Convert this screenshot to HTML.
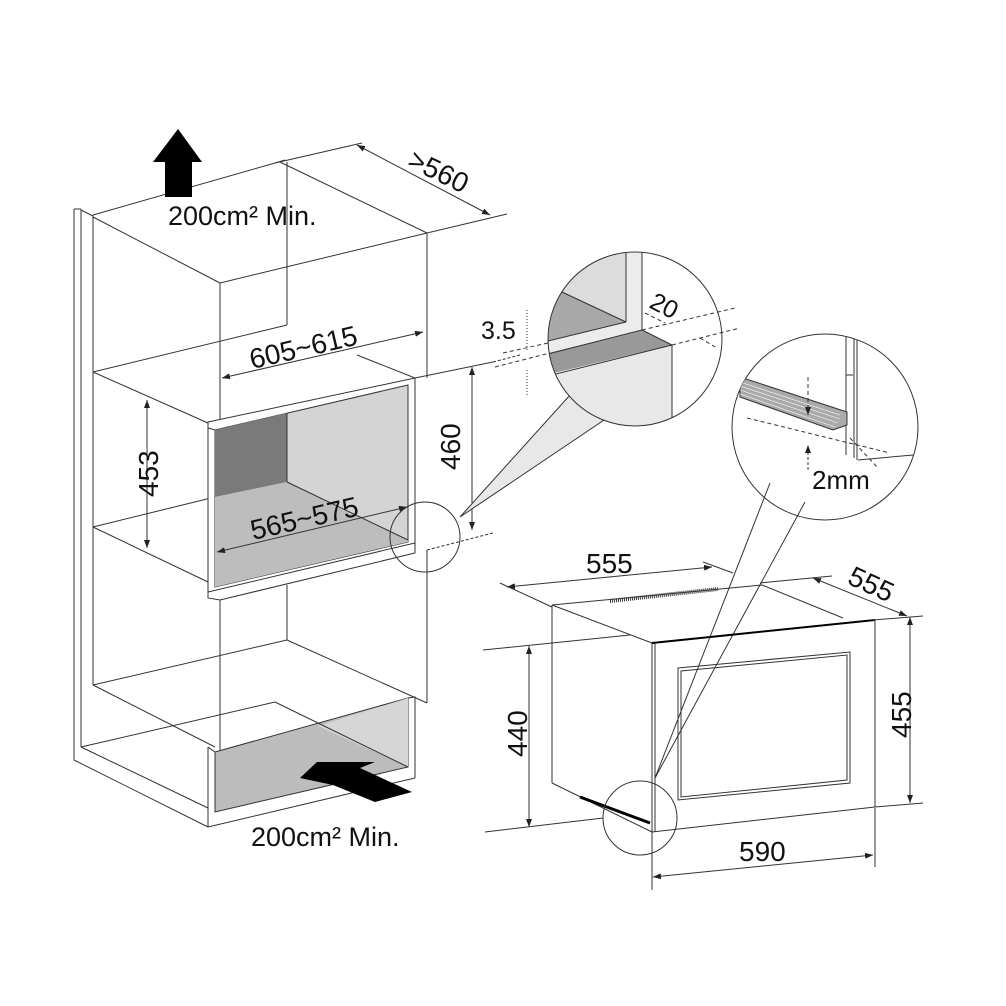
<!DOCTYPE html>
<html><head><meta charset="utf-8"><style>
html,body{margin:0;padding:0;background:#fff;}
svg{display:block}
text{font-family:"Liberation Sans",sans-serif;fill:#111}
</style></head><body>
<svg width="1006" height="1006" viewBox="0 0 1006 1006" xmlns="http://www.w3.org/2000/svg">
<defs>
<clipPath id="c1"><circle cx="635" cy="339" r="87"/></clipPath>
<clipPath id="c2"><circle cx="825" cy="427" r="93"/></clipPath>
<marker id="ar" markerWidth="8" markerHeight="6" refX="8" refY="3" orient="auto" markerUnits="userSpaceOnUse"><path d="M0,0 L8,3 L0,6 z" fill="#222"/></marker>
<marker id="al" markerWidth="8" markerHeight="6" refX="0" refY="3" orient="auto" markerUnits="userSpaceOnUse"><path d="M8,0 L0,3 L8,6 z" fill="#222"/></marker>
</defs>
<g stroke="#333" stroke-width="1" fill="none">
<line x1="74" y1="209" x2="74" y2="760"/>
<line x1="81" y1="209" x2="81" y2="747"/>
<line x1="74" y1="209" x2="81" y2="209"/>
<line x1="81" y1="210" x2="93" y2="216"/>
<line x1="93" y1="215" x2="93" y2="685"/>
<line x1="93" y1="215" x2="275" y2="163"/>
<line x1="275" y1="163" x2="285" y2="160"/>
<line x1="280" y1="162" x2="427" y2="233"/>
<line x1="93" y1="217" x2="220" y2="283"/>
<line x1="220" y1="283" x2="427" y2="233"/>
<line x1="220" y1="283" x2="220" y2="423"/>
<line x1="287" y1="162" x2="287" y2="325"/>
<line x1="427" y1="233" x2="427" y2="378"/>
<line x1="427" y1="550" x2="427" y2="703"/>
<line x1="275" y1="163" x2="362" y2="143"/>
<line x1="427" y1="233" x2="507" y2="214"/>
<line x1="93" y1="372" x2="287" y2="325"/>
<line x1="93" y1="372" x2="208" y2="423"/>
<line x1="357" y1="355" x2="415" y2="378"/>
<line x1="415" y1="378" x2="493" y2="362"/>
<line x1="93" y1="527" x2="215" y2="497"/>
<line x1="93" y1="527" x2="208" y2="582"/>
</g>
<polygon points="208,422 415,378 415,543 208,592" fill="#fff" stroke="#333"/>
<polygon points="215,430 408,385 408,542 215,587" fill="#d4d4d4" stroke="#333"/>
<polygon points="215,430 287,413 287,482 215,497" fill="#7a7a7a"/>
<polygon points="215,497 287,482 408,540 408,542 215,587" fill="#bdbdbd"/>
<line x1="287" y1="413" x2="287" y2="482" stroke="#333"/>
<line x1="287" y1="482" x2="408" y2="540" stroke="#333"/>
<polyline points="208,422 208,428 215,430" fill="none" stroke="#333"/>
<g stroke="#333" fill="none">
<polyline points="208,592 208,598 220,600 415,553 415,543"/>
<line x1="220" y1="600" x2="220" y2="751"/>
<line x1="287" y1="585" x2="287" y2="640"/>
<line x1="93" y1="685" x2="287" y2="640"/>
<line x1="287" y1="640" x2="427" y2="703"/>
<line x1="93" y1="685" x2="215" y2="747"/>
<line x1="74" y1="760" x2="208" y2="827"/>
<line x1="81" y1="747" x2="275" y2="702"/>
<line x1="81" y1="747" x2="208" y2="808"/>
</g>
<polygon points="215,752 408,698 408,767 215,812" fill="#bcbcbc" stroke="#333"/>
<polygon points="318,726 408,698 408,767" fill="#d6d6d6"/>
<line x1="275" y1="702" x2="408" y2="767" stroke="#333"/>
<g stroke="#333" fill="none">
<polyline points="208,747 215,752"/>
<line x1="208" y1="747" x2="208" y2="827"/>
<polyline points="408,698 415,697 415,778"/>
<line x1="208" y1="827" x2="415" y2="778"/>
</g>
<polygon points="300,778 317,762 375,762 360,768 412,792 375,802 333,785" fill="#000"/>
<polygon points="178,129 202,162 192,162 192,197 165,197 165,162 153,162" fill="#000"/>
<text x="168" y="225" font-size="27">200cm² Min.</text>
<text x="251" y="846" font-size="27">200cm² Min.</text>
<g stroke="#333" fill="none">
<line x1="357" y1="145" x2="490" y2="215" marker-start="url(#al)" marker-end="url(#ar)"/>
<line x1="222" y1="378" x2="423" y2="332" marker-start="url(#al)" marker-end="url(#ar)"/>
<line x1="217" y1="552" x2="407" y2="507" marker-start="url(#al)" marker-end="url(#ar)"/>
<line x1="147" y1="400" x2="147" y2="548" marker-start="url(#al)" marker-end="url(#ar)"/>
<line x1="472" y1="367" x2="472" y2="530" marker-start="url(#al)" marker-end="url(#ar)"/>
<line x1="427" y1="550" x2="493" y2="533" stroke-dasharray="3,2"/>
<line x1="493" y1="362" x2="520" y2="355" stroke-dasharray="3,2"/>
<circle cx="425" cy="537" r="35"/>
</g>
<text font-size="28" transform="translate(406,166) rotate(26)">&gt;560</text>
<text font-size="28" transform="translate(252,369) rotate(-13)">605~615</text>
<text font-size="28" transform="translate(253,540) rotate(-13)">565~575</text>
<text font-size="28" transform="translate(158,497) rotate(-90)">453</text>
<text font-size="28" transform="translate(460,470) rotate(-90)">460</text>
<polygon points="460,517 570,395 607,418" fill="#e8e8e8" stroke="#333"/>
<circle cx="635" cy="339" r="87" fill="#fff"/>
<g clip-path="url(#c1)">
<rect x="540" y="240" width="86" height="120" fill="#dcdcdc"/>
<polygon points="540,285 562,292 626,322 548,342 540,344" fill="#a8a8a8"/>
<polygon points="626,240 642,240 642,330 548,353 540,355 540,343 548,341 626,322" fill="#ececec"/>
<polygon points="540,355 548,353 642,330 672,345 672,440 540,440" fill="#e8e8e8"/>
<polygon points="540,357 548,353 642,330 672,345 558,372 540,376" fill="#999"/>
<g stroke="#333" fill="none">
<line x1="562" y1="292" x2="626" y2="322"/>
<line x1="626" y1="240" x2="626" y2="322"/>
<line x1="642" y1="240" x2="642" y2="330"/>
<line x1="626" y1="322" x2="540" y2="343"/>
<line x1="642" y1="330" x2="540" y2="356"/>
<line x1="672" y1="345" x2="540" y2="378"/>
<line x1="672" y1="345" x2="672" y2="440"/>
<line x1="642" y1="330" x2="672" y2="345"/>
</g>
</g>
<circle cx="635" cy="339" r="87" fill="none" stroke="#333"/>
<g stroke="#333" fill="none" stroke-dasharray="4,3">
<line x1="503" y1="353" x2="548" y2="343"/>
<line x1="495" y1="367" x2="550" y2="353"/>
<line x1="642" y1="330" x2="735" y2="308"/>
<line x1="672" y1="345" x2="740" y2="328"/>
<line x1="645" y1="313" x2="665" y2="323"/>
<line x1="700" y1="338" x2="717" y2="348"/>
</g>
<g stroke="#333" stroke-dasharray="1,2"><line x1="527" y1="310" x2="527" y2="350"/><line x1="527" y1="370" x2="527" y2="397"/></g>
<text x="481" y="339" font-size="25">3.5</text>
<text font-size="25" transform="translate(648,307) rotate(27)">20</text>
<circle cx="825" cy="427" r="93" fill="#fff" stroke="#333"/>
<g clip-path="url(#c2)" stroke="#333" fill="none">
<line x1="846" y1="330" x2="846" y2="455"/>
<line x1="854" y1="330" x2="854" y2="458"/>
<line x1="857" y1="330" x2="857" y2="460"/>
<line x1="846" y1="375" x2="853" y2="375"/>
<polygon points="740,377 847,412 847,425 833,430 740,397" fill="#aaa"/>
<g stroke="#fff" stroke-width="0.6"><line x1="740" y1="382" x2="840" y2="415"/><line x1="740" y1="386" x2="840" y2="419"/><line x1="740" y1="390" x2="838" y2="423"/><line x1="740" y1="394" x2="835" y2="427"/></g>
<line x1="747" y1="418" x2="890" y2="453" stroke-dasharray="4,3"/>
<line x1="850" y1="438" x2="878" y2="468" stroke-dasharray="4,3"/>
<line x1="858" y1="460" x2="913" y2="455"/>
<line x1="808" y1="377" x2="808" y2="415" stroke-dasharray="4,3" marker-end="url(#ar)"/>
<line x1="808" y1="470" x2="808" y2="445" stroke-dasharray="3,2" marker-end="url(#ar)"/>
</g>
<text x="812" y="489" font-size="26">2mm</text>
<line x1="770" y1="483" x2="655" y2="778" stroke="#333"/>
<line x1="805" y1="502" x2="655" y2="778" stroke="#333"/>
<g stroke="#333" fill="none">
<line x1="552" y1="605" x2="652" y2="643"/>
<line x1="552" y1="605" x2="762" y2="585"/>
<line x1="762" y1="585" x2="843" y2="618"/>
<line x1="552" y1="605" x2="552" y2="783"/>
<line x1="552" y1="783" x2="652" y2="832"/>
<line x1="652" y1="643" x2="652" y2="832"/>
<line x1="655" y1="643" x2="655" y2="832"/>
<line x1="652" y1="643" x2="875" y2="620" stroke="#000" stroke-width="2"/>
<line x1="875" y1="620" x2="875" y2="807"/>
<line x1="652" y1="832" x2="875" y2="807"/>
<polygon points="678,668 850,652 850,783 678,800"/>
<polygon points="681,671 847,655 847,780 681,797"/>
<line x1="580" y1="797" x2="650" y2="823" stroke="#000" stroke-width="3"/>
<line x1="610" y1="601" x2="718" y2="589" stroke-dasharray="1,1" stroke-width="4"/>
<line x1="500" y1="583" x2="552" y2="607"/>
<line x1="703" y1="562" x2="733" y2="573"/>
<line x1="507" y1="587" x2="712" y2="567" marker-start="url(#al)" marker-end="url(#ar)"/>
<line x1="760" y1="583" x2="832" y2="576"/>
<line x1="873" y1="620" x2="923" y2="616"/>
<line x1="813" y1="578" x2="907" y2="616" marker-start="url(#al)" marker-end="url(#ar)"/>
<line x1="875" y1="807" x2="923" y2="803"/>
<line x1="910" y1="617" x2="910" y2="803" marker-start="url(#al)" marker-end="url(#ar)"/>
<line x1="483" y1="650" x2="630" y2="635"/>
<line x1="485" y1="832" x2="603" y2="818"/>
<line x1="529" y1="646" x2="529" y2="827" marker-start="url(#al)" marker-end="url(#ar)"/>
<line x1="652" y1="832" x2="652" y2="890"/>
<line x1="875" y1="808" x2="875" y2="867"/>
<line x1="653" y1="877" x2="873" y2="855" marker-start="url(#al)" marker-end="url(#ar)"/>
<circle cx="640" cy="818" r="37"/>
</g>
<text x="586" y="573" font-size="28">555</text>
<text font-size="28" transform="translate(846,583) rotate(25)">555</text>
<text font-size="28" transform="translate(911,738) rotate(-90)">455</text>
<text font-size="28" transform="translate(527,757) rotate(-90)">440</text>
<text x="739" y="861" font-size="28">590</text>
</svg>
</body></html>
